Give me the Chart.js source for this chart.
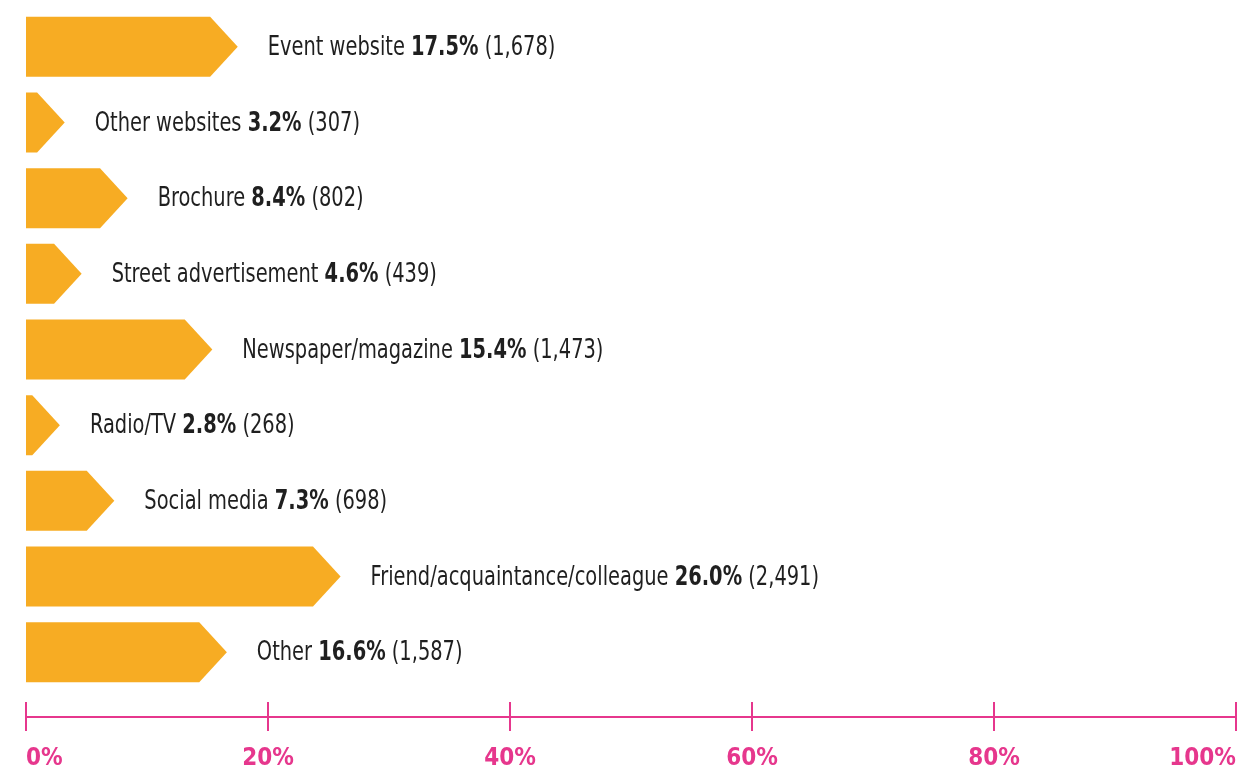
<!DOCTYPE html>
<html>
<head>
<meta charset="utf-8">
<script src="https://cdn.jsdelivr.net/npm/chart.js@4/dist/chart.umd.min.js"></script>
<style>
html,body{margin:0;padding:0;background:#fff;}
#wrap{width:1256px;height:775px;position:relative;}
</style>
</head>
<body>
<div id="wrap"><canvas id="c" width="1256" height="775"></canvas></div>
<script>
const categories = ["Event website","Other websites","Brochure","Street advertisement","Newspaper/magazine","Radio/TV","Social media","Friend/acquaintance/colleague","Other"];
const percents = [17.5, 3.2, 8.4, 4.6, 15.4, 2.8, 7.3, 26.0, 16.6];
const counts = ["1,678","307","802","439","1,473","268","698","2,491","1,587"];
const xTicks = [0, 20, 40, 60, 80, 100];

const ORANGE = '#F7AC23';
const PINK = '#E6378D';
const TEXT = '#1f1f1f';
const FAMILY = "'DejaVu Sans Condensed','Liberation Sans Narrow',sans-serif";
const LABEL_SIZE = 27;
const LABEL_STRETCH = 0.8;
const TICK_SIZE = 24;

const arrowPlugin = {
  id: 'arrows',
  afterDatasetsDraw(chart) {
    const ctx = chart.ctx;
    const meta = chart.getDatasetMeta(0);
    ctx.save();
    meta.data.forEach((bar, i) => {
      const p = bar.getProps(['x','y','base','height'], true);
      const top = p.y - p.height/2, bot = p.y + p.height/2;
      const half = p.height/2 * 0.92;
      const shoulder = Math.max(p.base, p.x - half);
      ctx.beginPath();
      ctx.moveTo(p.base, top);
      ctx.lineTo(shoulder, top);
      ctx.lineTo(p.x, p.y);
      ctx.lineTo(shoulder, bot);
      ctx.lineTo(p.base, bot);
      ctx.closePath();
      ctx.fillStyle = ORANGE;
      ctx.fill();
      // label
      const parts = [
        {t: categories[i] + ' ', w: 'normal'},
        {t: percents[i].toFixed(1) + '%', w: 'bold'},
        {t: ' (' + counts[i] + ')', w: 'normal'}
      ];
      ctx.save();
      ctx.translate(p.x + 30, p.y + 1);
      ctx.scale(LABEL_STRETCH, 1);
      ctx.textBaseline = 'middle';
      ctx.textAlign = 'left';
      ctx.fillStyle = TEXT;
      let x = 0;
      parts.forEach(pt => {
        ctx.font = pt.w + ' ' + LABEL_SIZE + 'px ' + FAMILY;
        ctx.fillText(pt.t, x, 0);
        x += ctx.measureText(pt.t).width;
      });
      ctx.restore();
    });
    ctx.restore();
  },
  afterDraw(chart) {
    const ctx = chart.ctx;
    const xs = chart.scales.x;
    const y = chart.chartArea.bottom + 27;
    ctx.save();
    ctx.strokeStyle = PINK;
    ctx.lineWidth = 2;
    ctx.beginPath();
    ctx.moveTo(xs.getPixelForValue(xTicks[0]), y);
    ctx.lineTo(xs.getPixelForValue(xTicks[xTicks.length-1]), y);
    ctx.stroke();
    xTicks.forEach(v => {
      const px = Math.round(xs.getPixelForValue(v));
      ctx.beginPath();
      ctx.moveTo(px, y - 15);
      ctx.lineTo(px, y + 14);
      ctx.stroke();
    });
    ctx.restore();
  }
};

new Chart(document.getElementById('c'), {
  type: 'bar',
  data: {
    labels: categories,
    datasets: [{
      data: percents,
      backgroundColor: 'rgba(0,0,0,0)',
      borderWidth: 0,
      categoryPercentage: 1,
      barPercentage: 0.793
    }]
  },
  options: {
    indexAxis: 'y',
    responsive: false,
    animation: false,
    events: [],
    layout: { padding: { top: 9, bottom: 2, left: 26, right: 20 } },
    plugins: { legend: { display: false }, tooltip: { enabled: false } },
    scales: {
      y: { display: false },
      x: {
        min: 0, max: 100,
        afterBuildTicks(scale) { scale.ticks = xTicks.map(v => ({value: v})); },
        afterFit(scale) { scale.height = 83; scale.paddingLeft = 0; scale.paddingRight = 0; },
        grid: { display: false, drawTicks: false },
        border: { display: false },
        ticks: {
          align: 'inner',
          padding: Math.round(68 - 0.6 * TICK_SIZE),
          color: PINK,
          font: { family: FAMILY, size: TICK_SIZE, weight: 'bold' },
          callback: v => v + '%'
        }
      }
    }
  },
  plugins: [arrowPlugin]
});
</script>
</body>
</html>
